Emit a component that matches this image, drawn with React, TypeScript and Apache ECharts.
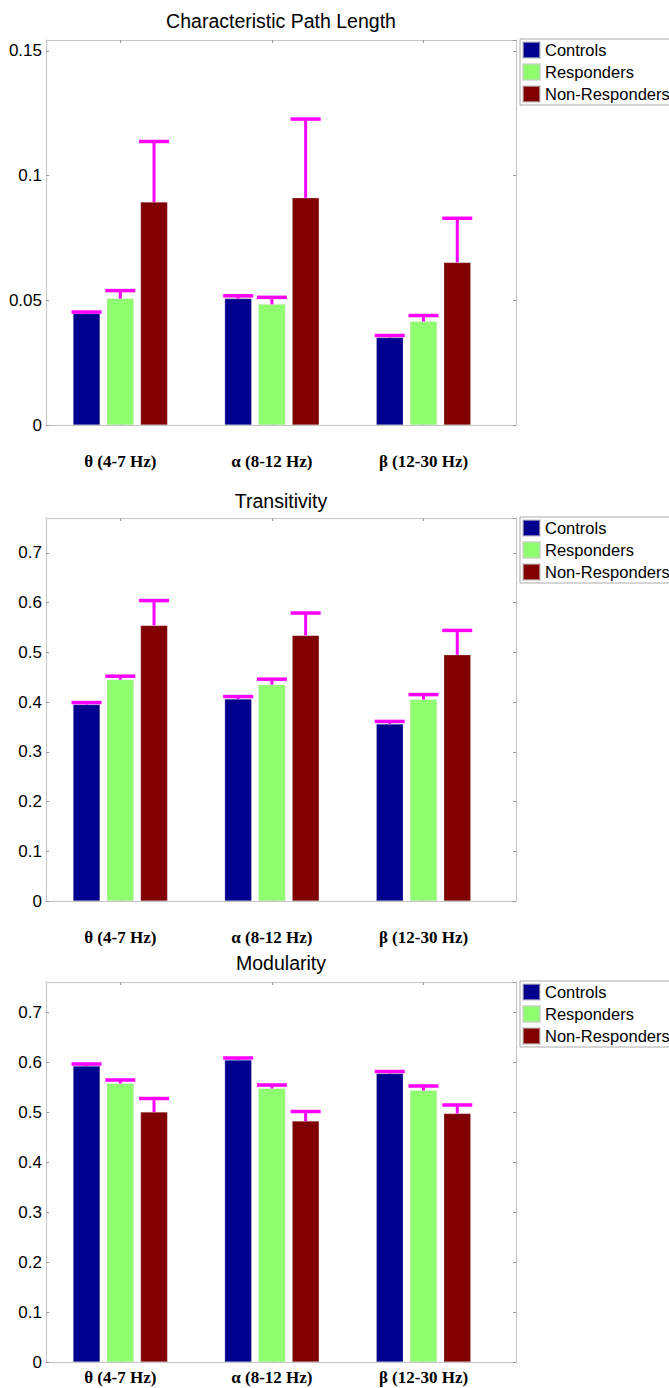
import React, { useEffect, useRef } from "react";
import * as echarts from "echarts";

const categories = ["θ (4-7 Hz)", "α (8-12 Hz)", "β (12-30 Hz)"];
const categoryPositions = [1, 2, 3];
const groupNames = ["Controls", "Responders", "Non-Responders"];
const groupColors = ["#00008F", "#8FFF70", "#800000"];
const panelTitles = ["Characteristic Path Length", "Transitivity", "Modularity"];

// Characteristic Path Length
const cplControls = [0.0447, 0.0507, 0.0351];
const cplResponders = [0.0507, 0.0484, 0.0415];
const cplNonResponders = [0.0894, 0.0911, 0.0652];
const cplControlsErr = [0.0006, 0.0011, 0.0008];
const cplRespondersErr = [0.0032, 0.0028, 0.0024];
const cplNonRespondersErr = [0.0243, 0.0316, 0.0177];

// Transitivity
const trControls = [0.395, 0.406, 0.356];
const trResponders = [0.445, 0.435, 0.405];
const trNonResponders = [0.554, 0.534, 0.495];
const trControlsErr = [0.004, 0.005, 0.005];
const trRespondersErr = [0.007, 0.011, 0.01];
const trNonRespondersErr = [0.05, 0.045, 0.049];

// Modularity
const modControls = [0.592, 0.604, 0.577];
const modResponders = [0.557, 0.547, 0.543];
const modNonResponders = [0.5, 0.482, 0.497];
const modControlsErr = [0.004, 0.004, 0.004];
const modRespondersErr = [0.007, 0.007, 0.009];
const modNonRespondersErr = [0.027, 0.019, 0.017];

const yMaxes = [0.1544, 0.77, 0.76];
const yIntervals = [0.05, 0.1, 0.1];

const panelMeans = [
  [cplControls, cplResponders, cplNonResponders],
  [trControls, trResponders, trNonResponders],
  [modControls, modResponders, modNonResponders],
];
const panelErrs = [
  [cplControlsErr, cplRespondersErr, cplNonRespondersErr],
  [trControlsErr, trRespondersErr, trNonRespondersErr],
  [modControlsErr, modRespondersErr, modNonRespondersErr],
];

// layout (pixels)
const gridLeft = 46;
const gridRightEdge = 516;
const gridTops = [40, 518, 982];
const gridBottoms = [425, 901, 1362];
const titleYs = [21, 501, 963];
const labelMargins = [28, 28, 6.5];
const barWidth = 27;
const barOffsets = [-33.75, 0, 33.75];
const axisGray = "#c4c4c4";

export default function App() {
  const ref = useRef<HTMLDivElement>(null);

  useEffect(() => {
    if (!ref.current) return;
    const chart = echarts.init(ref.current, null, { renderer: "svg" });

    const grids: any[] = [];
    const xAxes: any[] = [];
    const yAxes: any[] = [];
    const series: any[] = [];
    const legends: any[] = [];
    const graphics: any[] = [];

    for (let p = 0; p < 3; p++) {
      grids.push({
        left: gridLeft,
        top: gridTops[p],
        width: gridRightEdge - gridLeft,
        height: gridBottoms[p] - gridTops[p],
      });
      const xCommon = {
        type: "value",
        gridIndex: p,
        min: 0.51,
        max: 3.61,
        splitLine: { show: false },
        axisLine: { show: true, onZero: false, lineStyle: { color: axisGray, width: 1 } },
        axisTick: {
          show: true,
          inside: true,
          length: 3,
          customValues: categoryPositions,
          lineStyle: { color: "#999" },
        },
      };
      xAxes.push({
        ...xCommon,
        position: "bottom",
        axisLabel: {
          customValues: categoryPositions,
          formatter: (v: number) => categories[Math.round(v) - 1] ?? "",
          fontFamily: "Liberation Serif",
          fontWeight: "bold",
          fontSize: 17,
          color: "#000",
          margin: labelMargins[p],
        },
      });
      xAxes.push({
        ...xCommon,
        position: "top",
        axisLabel: { show: false },
      });
      const yCommon = {
        type: "value",
        gridIndex: p,
        min: 0,
        max: yMaxes[p],
        interval: yIntervals[p],
        splitLine: { show: false },
        axisLine: { show: true, onZero: false, lineStyle: { color: axisGray, width: 1 } },
        axisTick: { show: true, inside: true, length: 3, lineStyle: { color: "#999" } },
      };
      yAxes.push({
        ...yCommon,
        position: "left",
        axisLabel: {
          showMaxLabel: false,
          fontFamily: "Liberation Sans",
          fontSize: 17,
          color: "#000",
          margin: 4,
        },
      });
      yAxes.push({
        ...yCommon,
        position: "right",
        axisLabel: { show: false },
      });

      for (let g = 0; g < 3; g++) {
        series.push({
          type: "bar",
          name: groupNames[g],
          xAxisIndex: 2 * p,
          yAxisIndex: 2 * p,
          barWidth,
          barGap: "25%",
          itemStyle: { color: groupColors[g], borderColor: "rgba(200,200,200,0.6)", borderWidth: 0.5 },
          data: categoryPositions.map((x, i) => [x, panelMeans[p][g][i]]),
        });
      }

      const errData: number[][] = [];
      for (let g = 0; g < 3; g++) {
        categoryPositions.forEach((x, i) => {
          errData.push([x, panelMeans[p][g][i], panelErrs[p][g][i], g]);
        });
      }
      series.push({
        type: "custom",
        name: "err" + p,
        xAxisIndex: 2 * p,
        yAxisIndex: 2 * p,
        z: 10,
        encode: { x: 0, y: 1 },
        data: errData,
        renderItem: (_params: any, api: any) => {
          const x = api.value(0);
          const v = api.value(1);
          const e = api.value(2);
          const g = api.value(3);
          const base = api.coord([x, v]);
          const top = api.coord([x, v + e]);
          const cx = base[0] + barOffsets[g];
          return {
            type: "group",
            children: [
              {
                type: "line",
                shape: { x1: cx, y1: base[1], x2: cx, y2: top[1] },
                style: { stroke: "#FF00FF", lineWidth: 3 },
              },
              {
                type: "line",
                shape: { x1: cx - 15, y1: top[1], x2: cx + 15, y2: top[1] },
                style: { stroke: "#FF00FF", lineWidth: 3.5 },
              },
            ],
          };
        },
      });

      legends.push({
        data: groupNames,
        orient: "vertical",
        left: 520,
        top: gridTops[p] - 1,
        icon: "rect",
        itemWidth: 17,
        itemHeight: 16,
        itemGap: 4,
        padding: [2, 40, 2, 2],
        borderColor: "#aaaaaa",
        borderWidth: 1,
        selectedMode: false,
        textStyle: {
          fontFamily: "Liberation Sans",
          fontSize: 16.5,
          lineHeight: 16,
          color: "#000",
        },
      });

      graphics.push({
        type: "text",
        x: (gridLeft + gridRightEdge) / 2,
        y: titleYs[p],
        style: {
          text: panelTitles[p],
          fontFamily: "Liberation Sans",
          fontSize: 19.5,
          fill: "#000",
          align: "center",
          verticalAlign: "middle",
        },
      });
    }

    chart.setOption({
      animation: false,
      backgroundColor: "#fff",
      grid: grids,
      xAxis: xAxes,
      yAxis: yAxes,
      legend: legends,
      series,
      graphic: graphics,
    });

    return () => chart.dispose();
  }, []);

  return (
    <div
      ref={ref}
      style={{ position: "absolute", left: 0, top: 0, width: 669, height: 1388, background: "#fff" }}
    />
  );
}
